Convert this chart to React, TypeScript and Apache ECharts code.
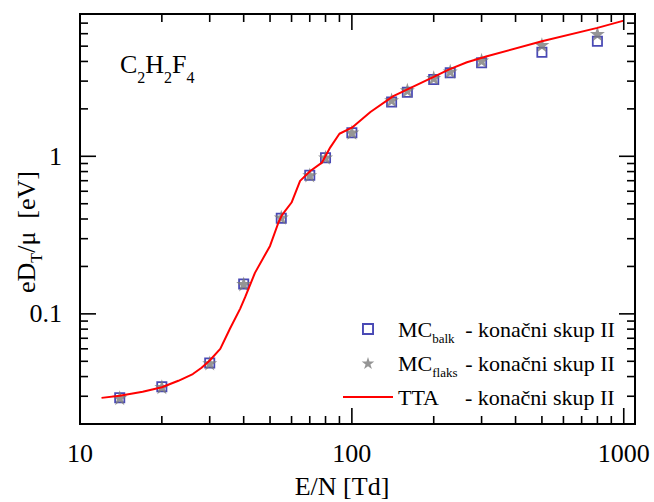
import { useEffect, useRef } from 'react';
import * as echarts from 'echarts';

// E/N values (Td) of the Monte Carlo points
const EN = [14, 20, 30, 40, 55, 70, 80, 100, 140, 160, 200, 230, 300, 500, 800];
// eD_T/mu (eV), bulk values
const MC_BALK = [0.0294, 0.0345, 0.0488, 0.155, 0.405, 0.758, 0.98, 1.41, 2.21, 2.55, 3.07, 3.39, 3.92, 4.57, 5.37];
// eD_T/mu (eV), flux values
const MC_FLAKS = [0.0294, 0.0345, 0.0488, 0.155, 0.41, 0.76, 0.985, 1.42, 2.28, 2.63, 3.15, 3.47, 4.07, 5.11, 6.0];

// Two-term approximation curve
const TTA_EN = [12, 14, 17, 20, 23, 26, 28, 30, 32.8, 35.6, 38.8, 40.5, 44, 50, 53.7, 55.3, 60, 64.5, 70.3, 77.6, 83.3, 90, 100, 117, 142, 200, 227, 265, 314, 500, 800, 1000];
const TTA_VAL = [0.0293, 0.0302, 0.032, 0.0342, 0.0376, 0.0415, 0.0455, 0.0506, 0.06, 0.0804, 0.1076, 0.1276, 0.182, 0.27, 0.38, 0.423, 0.509, 0.698, 0.807, 0.912, 1.14, 1.39, 1.52, 1.91, 2.41, 3.19, 3.55, 3.95, 4.31, 5.37, 6.53, 7.26];

// Axis ticks
const X_MAJOR = [100, 1000];
const X_MINOR = [20, 30, 40, 50, 60, 70, 80, 90, 200, 300, 400, 500, 600, 700, 800, 900];
const Y_MAJOR = [0.1, 1];
const Y_MINOR = [0.03, 0.04, 0.05, 0.06, 0.07, 0.08, 0.09, 0.2, 0.3, 0.4, 0.5, 0.6, 0.7, 0.8, 0.9, 2, 3, 4, 5, 6, 7, 8];

const FONT = "'Liberation Serif', 'Times New Roman', Times, serif";
const STAR =
  'path://M50,0 L61.23,34.55 L97.55,34.55 L68.17,55.9 L79.39,90.45 L50,69.1 L20.61,90.45 L31.83,55.9 L2.45,34.55 L38.77,34.55 Z';
// hollow square: outer edge clockwise, inner edge counter-clockwise
const HOLLOW_SQUARE = 'path://M0,0 H10 V10 H0 Z M1.6,1.6 V8.4 H8.4 V1.6 Z';
const LINE_ICON = 'path://M0,0 H50 V2 H0 Z';

const BLUE = '#1c1ca3';
const GREY = '#7b7b7b';
const RED = '#ff0000';

const powerLabel = (v: number) => {
  const l = Math.log10(v);
  if (Math.abs(l - Math.round(l)) < 1e-6) return Number(v.toPrecision(3)).toString();
  return '';
};

const tickRenderer = (horizontal: boolean) => (params: any, api: any) => {
  const cs = params.coordSys;
  const major = api.value(2) === 1;
  const len = major ? 16 : 8;
  const style = { stroke: '#000', lineWidth: 1.6 };
  if (horizontal) {
    const px = api.coord([api.value(0), api.value(1)])[0];
    const yb = cs.y + cs.height;
    return {
      type: 'group',
      children: [
        { type: 'line', shape: { x1: px, y1: yb, x2: px, y2: yb - len }, style },
        { type: 'line', shape: { x1: px, y1: cs.y, x2: px, y2: cs.y + len }, style },
      ],
    };
  }
  const py = api.coord([api.value(0), api.value(1)])[1];
  const xr = cs.x + cs.width;
  return {
    type: 'group',
    children: [
      { type: 'line', shape: { x1: cs.x, y1: py, x2: cs.x + len, y2: py }, style },
      { type: 'line', shape: { x1: xr, y1: py, x2: xr - len, y2: py }, style },
    ],
  };
};

export default function App() {
  const ref = useRef<HTMLDivElement>(null);

  useEffect(() => {
    const chart = echarts.init(ref.current!, null, { renderer: 'svg' });

    const xTicks = [
      ...X_MAJOR.map((v) => [v, 1, 1]),
      ...X_MINOR.map((v) => [v, 1, 0]),
    ];
    const yTicks = [
      ...Y_MAJOR.map((v) => [100, v, 1]),
      ...Y_MINOR.map((v) => [100, v, 0]),
    ];

    const option: any = {
      animation: false,
      backgroundColor: '#fff',
      textStyle: { fontFamily: FONT },
      grid: {
        left: 80,
        top: 14,
        width: 555,
        height: 410,
        show: true,
        borderColor: '#000',
        borderWidth: 2,
        backgroundColor: 'transparent',
      },
      xAxis: {
        type: 'log',
        logBase: 10,
        min: 10,
        max: 1100,
        axisLine: { show: false },
        axisTick: { show: false },
        minorTick: { show: false },
        splitLine: { show: false },
        axisLabel: {
          formatter: powerLabel,
          fontFamily: FONT,
          fontSize: 26,
          color: '#000',
          margin: 16,
          showMaxLabel: false,
        },
      },
      yAxis: {
        type: 'log',
        logBase: 10,
        min: 0.02,
        max: 8,
        axisLine: { show: false },
        axisTick: { show: false },
        minorTick: { show: false },
        splitLine: { show: false },
        axisLabel: {
          formatter: powerLabel,
          fontFamily: FONT,
          fontSize: 26,
          color: '#000',
          margin: 18,
          showMinLabel: false,
          showMaxLabel: false,
        },
      },
      legend: {
        data: [
          { name: 'MC balk', icon: HOLLOW_SQUARE },
          { name: 'MC flaks', icon: STAR },
          { name: 'TTA', icon: LINE_ICON },
        ],
        orient: 'vertical',
        left: 338,
        top: 313,
        itemWidth: 50,
        itemHeight: 12,
        itemGap: 7,
        symbolKeepAspect: true,
        selectedMode: false,
        formatter: (name: string) => {
          if (name === 'MC balk') return '{m|MC}{s|balk}{d|- konačni skup II}';
          if (name === 'MC flaks') return '{m|MC}{s|flaks}{d|- konačni skup II}';
          return '{t|TTA}{d|- konačni skup II}';
        },
        textStyle: {
          fontFamily: FONT,
          fontSize: 22,
          color: '#000',
          rich: {
            m: { fontFamily: FONT, fontSize: 22, lineHeight: 32, color: '#000' },
            s: { fontFamily: FONT, fontSize: 13, lineHeight: 13, width: 33, verticalAlign: 'bottom', color: '#000' },
            t: { fontFamily: FONT, fontSize: 22, lineHeight: 32, width: 67, color: '#000' },
            d: { fontFamily: FONT, fontSize: 22, lineHeight: 32, color: '#000' },
          },
        },
      },
      graphic: [
        {
          type: 'text',
          x: 120,
          y: 64,
          style: {
            text: '{a|C}{s|2}{a|H}{s|2}{a|F}{s|4}',
            verticalAlign: 'middle',
            align: 'left',
            rich: {
              a: { fontFamily: FONT, fontSize: 26, lineHeight: 42, fill: '#000' },
              s: { fontFamily: FONT, fontSize: 16, lineHeight: 16, verticalAlign: 'bottom', fill: '#000' },
            },
          },
        },
        {
          type: 'text',
          x: 26,
          y: 232,
          rotation: Math.PI / 2,
          style: {
            text: '{a|eD}{s|T}{a|/μ  [eV]}',
            align: 'center',
            verticalAlign: 'middle',
            rich: {
              a: { fontFamily: FONT, fontSize: 26, lineHeight: 36, fill: '#000' },
              s: { fontFamily: FONT, fontSize: 16, lineHeight: 16, verticalAlign: 'bottom', fill: '#000' },
            },
          },
        },
        {
          type: 'text',
          x: 342,
          y: 486,
          style: {
            text: 'E/N [Td]',
            fontFamily: FONT,
            fontSize: 26,
            fill: '#000',
            align: 'center',
            verticalAlign: 'middle',
          },
        },
      ],
      series: [
        {
          name: 'MC balk',
          type: 'scatter',
          data: EN.map((e, i) => [e, MC_BALK[i]]),
          symbol: HOLLOW_SQUARE,
          symbolSize: 11,
          itemStyle: { color: BLUE },
          z: 3,
        },
        {
          name: 'MC flaks',
          type: 'scatter',
          data: EN.map((e, i) => [e, MC_FLAKS[i]]),
          symbol: STAR,
          symbolSize: 15,
          itemStyle: { color: GREY },
          z: 4,
        },
        {
          name: 'TTA',
          type: 'line',
          data: TTA_EN.map((e, i) => [e, TTA_VAL[i]]),
          symbol: 'none',
          showSymbol: false,
          smooth: false,
          lineStyle: { color: RED, width: 2 },
          itemStyle: { color: RED },
          z: 5,
        },
        {
          type: 'custom',
          silent: true,
          data: xTicks,
          encode: { x: 0, y: 1 },
          renderItem: tickRenderer(true),
          z: 6,
        },
        {
          type: 'custom',
          silent: true,
          data: yTicks,
          encode: { x: 0, y: 1 },
          renderItem: tickRenderer(false),
          z: 6,
        },
      ],
    };

    chart.setOption(option);
    return () => chart.dispose();
  }, []);

  return (
    <div
      ref={ref}
      style={{ position: 'fixed', left: 0, top: 0, width: 654, height: 502, background: '#fff' }}
    />
  );
}
